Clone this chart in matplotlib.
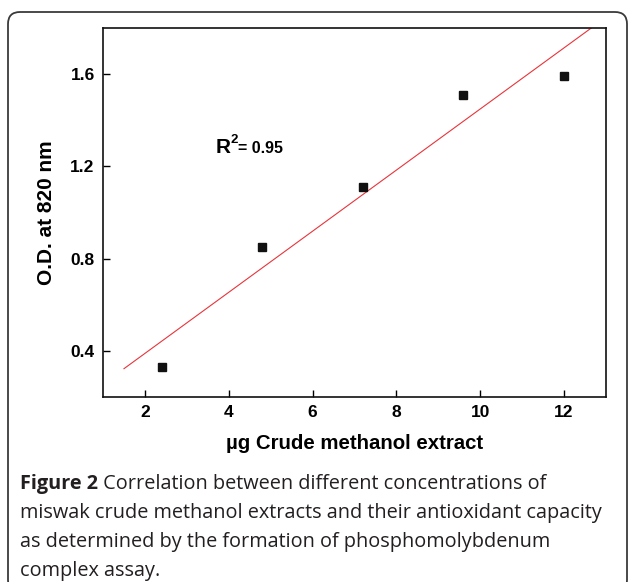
import numpy as np
import matplotlib
matplotlib.use("Agg")
import matplotlib.pyplot as plt
from matplotlib.patches import FancyBboxPatch
from matplotlib.transforms import offset_copy

# ---- data ----
x_conc = [2.4, 4.8, 7.2, 9.6, 12.0]
od_values = [0.33, 0.85, 1.11, 1.51, 1.59]
x_ticks = [2, 4, 6, 8, 10, 12]
y_ticks = [0.4, 0.8, 1.2, 1.6]
x_label = "\u00b5g Crude methanol extract"
y_label = "O.D. at 820 nm"
r2_text = "0.95"
caption_bold = "Figure 2"
caption_lines = [
    " Correlation between different concentrations of",
    "miswak crude methanol extracts and their antioxidant capacity",
    "as determined by the formation of phosphomolybdenum",
    "complex assay.",
]

W, H = 629, 582
fig = plt.figure(figsize=(W / 100, H / 100), dpi=100)
fig.patch.set_facecolor("white")

tick_font = "Liberation Sans"
ax = fig.add_axes([103 / W, 1 - 397 / H, (606 - 103) / W, (397 - 28) / H])
ax.set_xlim(1, 13)
ax.set_ylim(0.2, 1.8)
ax.set_xticks(x_ticks)
ax.set_yticks(y_ticks)
ax.set_xticklabels([str(t) for t in x_ticks], fontfamily=tick_font, fontweight="bold", fontsize=12.5)
ax.set_yticklabels([f"{t:.1f}" for t in y_ticks], fontfamily=tick_font, fontweight="bold", fontsize=12.5)
ax.tick_params(direction="in", length=5, width=1, pad=6, top=False, right=False)
for s in ax.spines.values():
    s.set_linewidth(1.2)
    s.set_color("#111111")

# scatter points
ax.plot(x_conc, od_values, linestyle="none", marker="s", markersize=6.2,
        color="#111111", zorder=3)

# linear fit
slope, intercept = np.polyfit(x_conc, od_values, 1)
xf = np.array([1.5, 13.0])
ax.plot(xf, slope * xf + intercept, color="#e8343a", linewidth=0.8, zorder=2)

ax.set_xlabel(x_label, fontfamily=tick_font, fontweight="bold", fontsize=14.7, labelpad=10)
ax.set_ylabel(y_label, fontfamily=tick_font, fontweight="bold", fontsize=15, labelpad=10)

# R^2 annotation
fig.canvas.draw()
renderer = fig.canvas.get_renderer()
tR = ax.text(3.68, 1.26, "R", fontfamily=tick_font, fontweight="bold", fontsize=15,
             ha="left", va="baseline")
wR = tR.get_window_extent(renderer).width * 72 / 100
tr2 = offset_copy(ax.transData, fig=fig, x=wR + 0.3, y=7, units="points")
t2 = ax.text(3.68, 1.26, "2", fontfamily=tick_font, fontweight="bold", fontsize=9.5,
             ha="left", va="baseline", transform=tr2)
w2 = t2.get_window_extent(renderer).width * 72 / 100
tr3 = offset_copy(ax.transData, fig=fig, x=wR + w2 + 0.3, y=0, units="points")
ax.text(3.68, 1.26, "= " + r2_text, fontfamily=tick_font, fontweight="bold", fontsize=11.5,
        ha="left", va="baseline", transform=tr3)

# caption
cap_font = "Open Sans"
cap_size = 14.3
cap_color = "#231f20"
x0 = 20 / W
baselines = [489, 518, 547, 576]
tb = fig.text(x0, 1 - baselines[0] / H, caption_bold, fontfamily=cap_font, fontweight="bold",
              fontsize=cap_size, color=cap_color, ha="left", va="baseline")
bbb = tb.get_window_extent(renderer)
fig.text(x0 + bbb.width / W, 1 - baselines[0] / H, caption_lines[0], fontfamily=cap_font,
         fontsize=cap_size, color=cap_color, ha="left", va="baseline")
for line, bl in zip(caption_lines[1:], baselines[1:]):
    fig.text(x0, 1 - bl / H, line, fontfamily=cap_font, fontsize=cap_size,
             color=cap_color, ha="left", va="baseline")

# rounded border
border = FancyBboxPatch((8, -10), 619, 580, boxstyle="round,pad=0,rounding_size=12",
                        transform=None, facecolor="none", edgecolor="#3a3a3a",
                        linewidth=1.3, clip_on=False)
fig.patches.append(border)

fig.savefig("out.png", dpi=100)
